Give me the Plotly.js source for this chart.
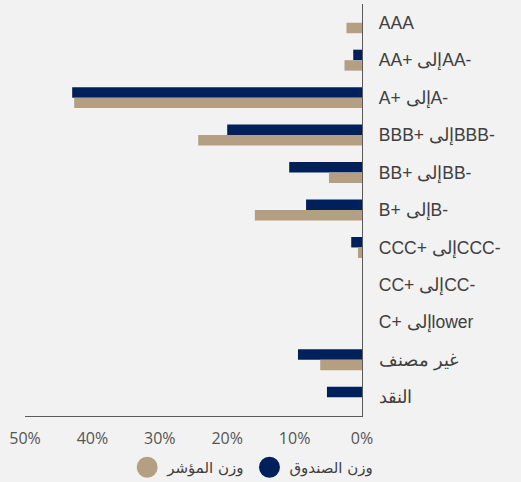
<!DOCTYPE html>
<html>
<head>
<meta charset="utf-8">
<script src="https://cdn.plot.ly/plotly-3.0.1.min.js"></script>
<style>
html,body{margin:0;padding:0;background:#f2f2f2;}
#chart{width:521px;height:482px;}
</style>
</head>
<body>
<div id="chart"></div>
<script>
// Data
var categories = ["AAA", "AA+ إلىAA-", "A+ إلىA-", "BBB+ إلىBBB-", "BB+ إلىBB-", "B+ إلىB-", "CCC+ إلىCCC-", "CC+ إلىCC-", "C+ إلىlower", "غير مصنف", "النقد"];
var fundWeight  = [0.0, 1.3, 43.0, 20.0, 10.8, 8.3, 1.6, 0.0, 0.0, 9.5, 5.2];
var indexWeight = [2.3, 2.6, 42.7, 24.3, 4.9, 15.9, 0.6, 0.0, 0.0, 6.2, 0.0];
var fundName = "وزن الصندوق";
var indexName = "وزن المؤشر";
var xTickVals = [0, 10, 20, 30, 40, 50];
var xTickText = ["0%", "10%", "20%", "30%", "40%", "50%"];

var navy = "#00205b";
var tan = "#b49f82";

var traces = [
  {type: "bar", orientation: "h", name: fundName, y: categories, x: fundWeight,
   marker: {color: navy}, showlegend: false, hoverinfo: "x+y"},
  {type: "bar", orientation: "h", name: indexName, y: categories, x: indexWeight,
   marker: {color: tan}, showlegend: false, hoverinfo: "x+y"},
  {type: "scatter", mode: "markers", name: fundName, x: [null], y: [null],
   marker: {color: navy, size: 16, symbol: "circle", line: {color: navy, width: 5}}},
  {type: "scatter", mode: "markers", name: indexName, x: [null], y: [null],
   marker: {color: tan, size: 16, symbol: "circle", line: {color: tan, width: 5}}}
];

var layout = {
  width: 521, height: 482,
  paper_bgcolor: "#f2f2f2", plot_bgcolor: "#f2f2f2",
  margin: {l: 25, r: 159, t: 4, b: 66},
  barmode: "group", bargap: 0.44, bargroupgap: 0,
  font: {family: "Liberation Sans, Arial, sans-serif", color: "#404040"},
  xaxis: {
    range: [50, 0], tickvals: xTickVals, ticktext: xTickText,
    showgrid: false, zeroline: false, showline: true, linecolor: "#595959", linewidth: 1.3,
    ticks: "outside", ticklen: 7, tickcolor: "rgba(0,0,0,0)",
    tickfont: {family: "Open Sans, Liberation Sans, sans-serif", size: 16, color: "#555555"},
    fixedrange: true
  },
  yaxis: {
    type: "category", categoryorder: "array", categoryarray: categories,
    autorange: "reversed", side: "right",
    showgrid: false, zeroline: false, showline: true, linecolor: "#595959", linewidth: 1.3,
    ticks: "outside", ticklen: 12, tickcolor: "rgba(0,0,0,0)",
    tickfont: {family: "Liberation Sans, Arial, sans-serif", size: 17.5, color: "#404040"},
    fixedrange: true
  },
  showlegend: true,
  legend: {
    orientation: "h", traceorder: "reversed",
    xref: "container", yref: "container",
    x: 0.485, xanchor: "center", y: 0.03, yanchor: "middle",
    font: {family: "DejaVu Sans, Noto Sans, sans-serif", size: 15, color: "#404040"},
    itemwidth: 30, bgcolor: "rgba(0,0,0,0)"
  }
};

Plotly.newPlot("chart", traces, layout, {displayModeBar: false, staticPlot: true});
</script>
</body>
</html>
